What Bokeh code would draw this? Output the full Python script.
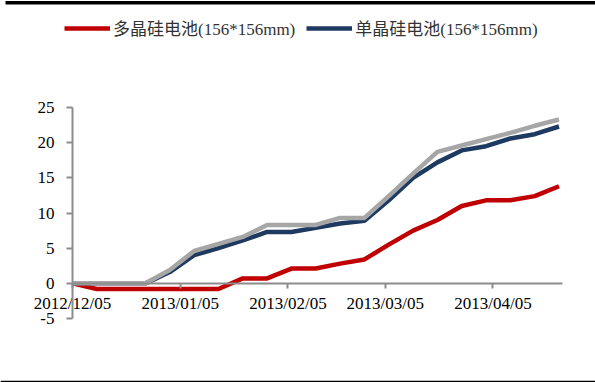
from datetime import datetime, timedelta
from bokeh.plotting import figure
from bokeh.models import (Legend, LegendItem, FixedTicker, DatetimeTickFormatter,
                          Range1d, ColumnDataSource, Span, BoxAnnotation)
from bokeh.embed import file_html
from bokeh.resources import INLINE

# ---- data ----
dates = ["2012-12-05", "2012-12-12", "2012-12-19", "2012-12-26", "2013-01-02",
         "2013-01-09", "2013-01-16", "2013-01-23", "2013-01-30", "2013-02-06",
         "2013-02-13", "2013-02-20", "2013-02-27", "2013-03-06", "2013-03-13",
         "2013-03-20", "2013-03-27", "2013-04-03", "2013-04-10", "2013-04-17",
         "2013-04-24"]
poly_cell = [0, -0.8, -0.8, -0.8, -0.8, -0.8, -0.8, 0.7, 0.7, 2.1, 2.1,
             2.8, 3.4, 5.5, 7.5, 9.0, 11.0, 11.8, 11.8, 12.4, 13.8]
mono_cell = [0, 0, 0, 0, 1.6, 4.0, 5.0, 6.1, 7.3, 7.3, 7.9,
             8.5, 8.9, 11.8, 15.0, 17.2, 18.9, 19.5, 20.6, 21.2, 22.3]
third_series = [0, 0, 0, 0, 1.9, 4.6, 5.6, 6.6, 8.3, 8.3, 8.3,
                9.3, 9.3, 12.4, 15.6, 18.7, 19.6, 20.5, 21.4, 22.4, 23.3]
series_names = ["多晶硅电池(156*156mm)", "单晶硅电池(156*156mm)"]
tick_dates = ["2012-12-05", "2013-01-05", "2013-02-05", "2013-03-05", "2013-04-05"]
y_ticks = [-5, 0, 5, 10, 15, 20, 25]
axis_start, axis_end = "2012-12-05", "2013-04-25"
y_axis_min, y_axis_max = -5, 25

# ---- helpers ----
def to_dt(s):
    return datetime.strptime(s, "%Y-%m-%d")

def to_ms(d):
    return (d - datetime(1970, 1, 1)).total_seconds() * 1000.0

W, H = 595, 382
# the frame fills the whole canvas; axes are placed inside at fixed locations
frame_left_px, frame_right_px = 72, 562     # where the axis box sits
frame_top_px, frame_bot_px = 107, 318

d0 = to_dt(axis_start)
d1 = to_dt(axis_end)
days_span = (d1 - d0).total_seconds() / 86400.0
px_per_day = (frame_right_px - frame_left_px) / days_span
x_lo = d0 - timedelta(days=frame_left_px / px_per_day)
x_hi = d0 + timedelta(days=(W - frame_left_px) / px_per_day)
px_per_unit = (frame_bot_px - frame_top_px) / (y_axis_max - y_axis_min)
y_hi = y_axis_max + frame_top_px / px_per_unit
y_lo = y_axis_min - (H - frame_bot_px) / px_per_unit

src = ColumnDataSource(dict(x=[to_dt(d) for d in dates], poly=poly_cell,
                            mono=mono_cell, third=third_series))

p = figure(width=W, height=H, x_axis_type="datetime",
           output_backend="svg", toolbar_location=None,
           x_range=Range1d(x_lo, x_hi), y_range=Range1d(y_lo, y_hi))
p.min_border = 0
p.min_border_left = 0
p.min_border_right = 0
p.min_border_top = 0
p.min_border_bottom = 0
p.outline_line_color = None
p.grid.visible = False
p.background_fill_color = "white"
p.border_fill_color = "white"

# page rules at top and bottom of the picture
p.add_layout(BoxAnnotation(top=y_hi - 0.5 / px_per_unit,
                           bottom=y_hi - 4.0 / px_per_unit,
                           left=x_lo + timedelta(days=5 / px_per_day),
                           fill_color="black", fill_alpha=1.0,
                           line_color=None, level="overlay"))
p.add_layout(Span(location=y_hi - 381 / px_per_unit, dimension="width",
                  line_color="black", line_width=1.5))

axis_col = "#8c8c8c"
tick_font = "Liberation Serif"

xa = p.xaxis[0]
xa.fixed_location = 0
xa.bounds = (to_ms(d0), to_ms(d1))
xa.ticker = FixedTicker(ticks=[to_ms(to_dt(d)) for d in tick_dates])
xa.formatter = DatetimeTickFormatter(days="%Y/%m/%d", months="%Y/%m/%d",
                                     years="%Y/%m/%d", hours="%Y/%m/%d")
xa.axis_line_color = axis_col
xa.axis_line_width = 2
xa.major_tick_line_color = axis_col
xa.major_tick_line_width = 2
xa.major_tick_out = 5
xa.major_tick_in = 0
xa.minor_tick_line_color = None
xa.major_label_text_font = tick_font
xa.major_label_text_font_size = "17px"
xa.major_label_text_color = "black"
xa.major_label_standoff = 6

ya = p.yaxis[0]
ya.fixed_location = to_ms(d0)
ya.bounds = (y_axis_min, y_axis_max)
ya.ticker = FixedTicker(ticks=y_ticks)
ya.major_label_overrides = {t: str(t) for t in y_ticks}
ya.axis_line_color = axis_col
ya.axis_line_width = 2
ya.major_tick_line_color = axis_col
ya.major_tick_line_width = 2
ya.major_tick_out = 6
ya.major_tick_in = 0
ya.minor_tick_line_color = None
ya.major_label_text_font = tick_font
ya.major_label_text_font_size = "17px"
ya.major_label_text_color = "black"
ya.major_label_standoff = 12

r_poly = p.line("x", "poly", source=src, line_color="#C00000", line_width=4.5,
                line_join="round")
r_mono = p.line("x", "mono", source=src, line_color="#1F3A60", line_width=4.5,
                line_join="round")
r_third = p.line("x", "third", source=src, line_color="#A6A6A6", line_width=4.5,
                 line_join="round")

legend = Legend(items=[LegendItem(label=series_names[0], renderers=[r_poly]),
                       LegendItem(label=series_names[1], renderers=[r_mono])],
                orientation="horizontal", location=(64, 342),
                glyph_width=46, glyph_height=16, label_standoff=3, spacing=11,
                padding=0, margin=0,
                label_text_font="Liberation Serif, Noto Sans CJK SC",
                label_text_font_size="17px", label_text_color="#333333",
                border_line_color=None, background_fill_alpha=0)
p.add_layout(legend, "center")

open("out.html", "w").write(file_html(p, INLINE))
